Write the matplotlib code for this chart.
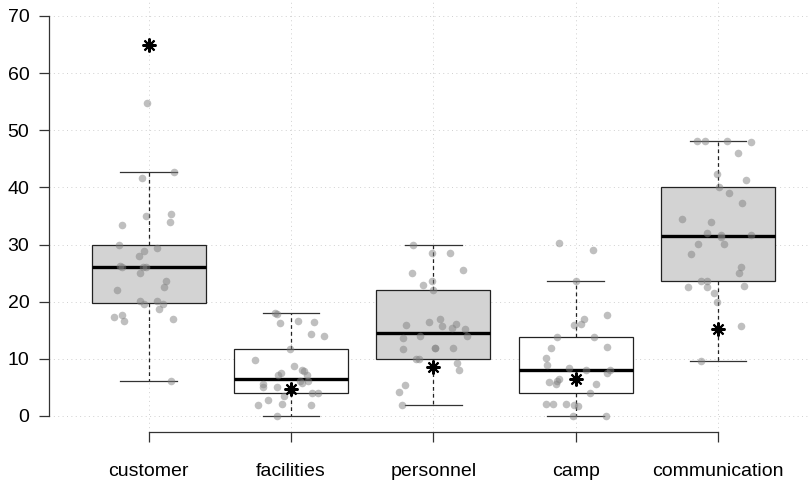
import matplotlib
matplotlib.use("Agg")
import matplotlib.pyplot as plt

categories = ["customer", "facilities", "personnel", "camp", "communication"]

# box statistics
q1 = [19.7, 4.0, 9.98, 4.0, 23.57]
med = [26.0, 6.56, 14.57, 8.07, 31.5]
q3 = [29.9, 11.8, 22.0, 13.76, 40.0]
whislo = [6.04, 0.0, 1.92, 0.0, 9.63]
whishi = [42.66, 18.0, 29.9, 23.57, 48.2]
box_fill = ["#d3d3d3", "white", "#d3d3d3", "white", "#d3d3d3"]

# asterisk markers
star_vals = [65.0, 4.64, 8.5, 6.56, 15.2]

# jittered observations (value, horizontal jitter offset)
customer_vals = [54.8, 42.66, 41.7, 35.05, 35.3, 34.0, 33.4, 29.9, 29.4, 28.8, 28.0, 26.2, 26.0, 26.0, 26.0,
                 25.0, 23.6, 22.5, 22.1, 20.1, 19.6, 20.1, 19.6, 18.7, 17.4, 17.7, 16.7, 17.0, 6.04]
customer_jit = [-0.01, 0.18, -0.05, -0.02, 0.16, 0.15, -0.19, -0.21, 0.06, -0.03, -0.07, -0.20, -0.19, -0.04, -0.02,
                -0.06, 0.12, 0.11, -0.22, -0.06, -0.03, 0.06, 0.10, 0.07, -0.24, -0.19, -0.17, 0.17, 0.16]
facilities_vals = [18.0, 17.8, 16.3, 16.7, 16.4, 14.3, 14.05, 11.8, 9.8, 8.77, 7.6, 7.26, 8.0, 7.9, 7.26,
                   6.04, 6.04, 5.69, 5.63, 5.1, 5.1, 3.43, 3.95, 4.0, 1.97, 2.73, 2.09, 1.97, 0.0]
facilities_jit = [-0.11, -0.10, -0.08, 0.05, 0.16, 0.14, 0.23, -0.01, -0.25, 0.02, -0.07, -0.09, 0.08, 0.09, 0.11,
                  0.06, 0.12, 0.08, -0.20, -0.20, -0.10, -0.05, 0.15, 0.19, -0.23, -0.16, -0.06, 0.14, -0.10]
personnel_vals = [29.9, 28.6, 28.6, 25.0, 25.5, 23.0, 23.6, 22.0, 16.0, 16.5, 17.0, 15.7, 15.4, 16.1, 15.15,
                  14.0, 13.7, 14.0, 11.8, 11.96, 11.96, 11.84, 10.05, 10.05, 9.28, 8.0, 5.4, 4.18, 1.92]
personnel_jit = [-0.14, -0.01, 0.12, -0.15, 0.21, -0.07, -0.01, 0.0, -0.19, -0.03, 0.05, 0.06, 0.13, 0.16, 0.22,
                 0.24, -0.21, -0.09, -0.21, 0.01, 0.01, 0.14, -0.12, -0.10, 0.17, 0.18, -0.20, -0.24, -0.22]
camp_vals = [30.2, 29.1, 23.57, 17.7, 16.95, 16.1, 16.0, 13.76, 13.76, 11.96, 12.0, 10.15, 8.93, 8.47, 8.0,
             8.07, 7.55, 6.56, 6.04, 5.87, 5.63, 5.63, 3.95, 2.03, 2.03, 2.03, 1.86, 1.74, 0.0, 0.0]
camp_jit = [-0.12, 0.12, 0.0, 0.22, 0.06, 0.04, -0.01, -0.13, 0.13, -0.17, 0.22, -0.21, -0.20, -0.05, 0.07,
            0.24, 0.22, -0.12, -0.13, -0.19, -0.14, 0.14, 0.10, -0.21, -0.16, -0.07, -0.01, 0.02, -0.02, 0.21]
communication_vals = [48.1, 48.2, 48.06, 47.95, 46.1, 42.4, 41.27, 40.0, 38.95, 37.3, 34.5, 33.95, 32.1, 31.7, 31.3,
                      31.6, 30.07, 30.07, 28.4, 26.1, 25.0, 23.57, 23.7, 22.5, 22.5, 22.7, 21.6, 20.0, 15.67, 9.63]
communication_jit = [-0.15, -0.09, 0.06, 0.23, 0.14, -0.01, 0.20, 0.01, 0.08, 0.17, -0.25, -0.05, -0.08, 0.02, 0.02,
                     0.23, -0.14, 0.04, -0.19, 0.16, 0.15, -0.12, -0.08, -0.21, -0.08, 0.18, -0.03, -0.01, 0.16, -0.12]

point_vals = [customer_vals, facilities_vals, personnel_vals, camp_vals, communication_vals]
point_jit = [customer_jit, facilities_jit, personnel_jit, camp_jit, communication_jit]

yticks = [0, 10, 20, 30, 40, 50, 60, 70]

plt.rcParams['font.family'] = ['Liberation Sans', 'DejaVu Sans']

W, H = 809, 484
fig = plt.figure(figsize=(W / 100, H / 100), dpi=100)
ax = fig.add_axes([49 / W, (H - 432) / H, (817.6 - 49) / W, 432 / H])
ax.set_xlim(0.3, 5.7)
ax.set_ylim(-2.8, 72.8)

# grid
for y in yticks:
    ax.axhline(y, color="#d0d0d0", lw=0.7, ls=(0, (1, 3.5)), zorder=0)
for i in range(len(categories)):
    ax.axvline(i + 1, color="#d0d0d0", lw=0.7, ls=(0, (1, 3.5)), zorder=0)

stats = []
for i, c in enumerate(categories):
    stats.append(dict(label=c, q1=q1[i], med=med[i], q3=q3[i], whislo=whislo[i], whishi=whishi[i], fliers=[]))

bp = ax.bxp(stats, positions=range(1, 6), widths=0.8, patch_artist=True, showfliers=False,
            boxprops=dict(edgecolor="#222222", linewidth=0.9),
            medianprops=dict(color="black", linewidth=2.4, solid_capstyle="butt"),
            whiskerprops=dict(color="#222222", linewidth=0.9, linestyle=(0, (3, 2.5))),
            capprops=dict(color="#333333", linewidth=0.9),
            zorder=2)
for patch, fc in zip(bp["boxes"], box_fill):
    patch.set_facecolor(fc)

for i in range(len(categories)):
    xs = [i + 1 + j for j in point_jit[i]]
    ax.scatter(xs, point_vals[i], s=30, color="#808080", alpha=0.5, linewidths=0, zorder=3)

ax.plot(range(1, 6), star_vals, linestyle="none", marker=(8, 2, 0), markersize=10,
        markeredgewidth=1.5, color="black", zorder=4)

for s in ["top", "right"]:
    ax.spines[s].set_visible(False)
ax.spines["left"].set_bounds(0, 70)
ax.spines["bottom"].set_bounds(1, 5)
for s in ["left", "bottom"]:
    ax.spines[s].set_color("#333333")
    ax.spines[s].set_linewidth(0.9)

ax.set_yticks(yticks)
ax.set_yticklabels([str(v) for v in yticks])
ax.set_xticks(range(1, 6))
ax.set_xticklabels(categories)
ax.tick_params(axis="y", length=7.2, width=0.9, color="#333333", pad=7, labelsize=14)
ax.tick_params(axis="x", length=7.2, width=0.9, color="#333333", pad=15, labelsize=14)

fig.savefig("out.png", dpi=100)
